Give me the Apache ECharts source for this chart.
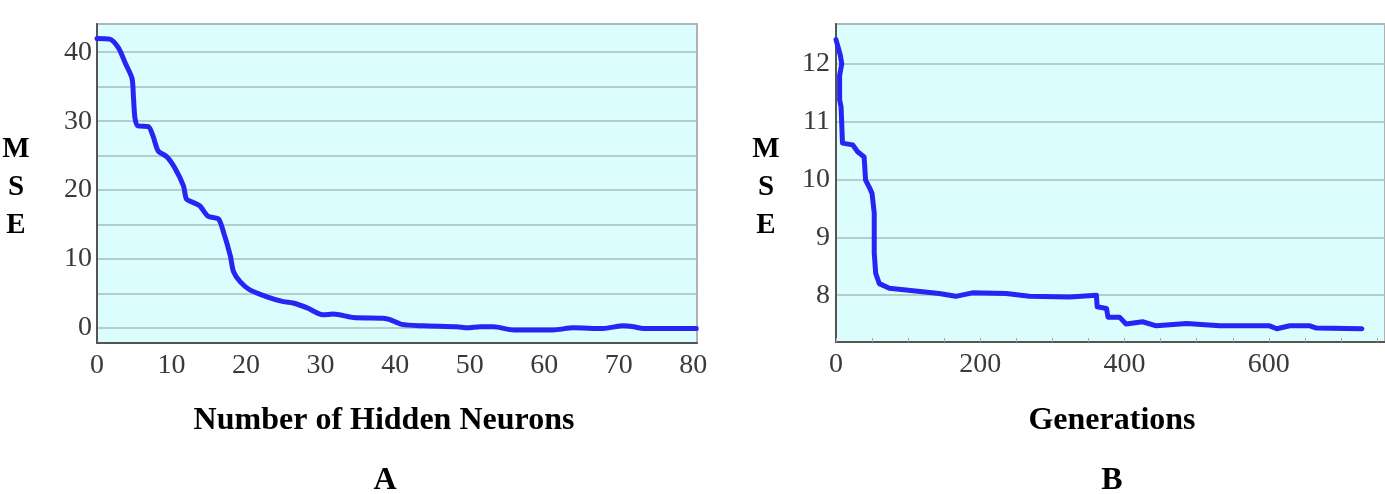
<!DOCTYPE html>
<html>
<head>
<meta charset="utf-8">
<script src="https://cdn.jsdelivr.net/npm/echarts@6/dist/echarts.min.js"></script>
<style>
html,body{margin:0;padding:0;background:#fff;}
#chart{width:1385px;height:494px;}
</style>
</head>
<body>
<div id="chart"></div>
<script>
// Panel A: MSE vs number of hidden neurons
var neuronsX = [0,1.7,2.9,3.8,4.7,4.9,5.1,5.5,6.9,7.5,8.2,9.4,10.5,11.6,12.0,12.9,13.8,14.9,16.3,17.0,17.9,18.3,19.2,20.5,22.8,25,26.3,28.2,30.3,31.7,34.4,38.4,39.3,40.9,43.8,48.3,49.7,51.4,53.2,55.9,61.2,63.9,67.9,70.6,72,73.3,80.4];
var neuronsMSE = [42.0,41.9,40.6,38.4,36.2,33.3,30.4,29.3,29.2,27.9,25.7,24.8,23.1,20.6,18.7,18.2,17.7,16.2,15.8,13.8,10.4,8.2,6.7,5.5,4.5,3.8,3.6,2.9,1.9,2.0,1.5,1.4,1.2,0.5,0.3,0.15,0,0.15,0.15,-0.3,-0.3,0,-0.1,0.3,0.15,-0.1,-0.1];
// Panel B: MSE vs generations
var genX = [0,6,8,5,5,7,9,23,30,39,41,46,50,53,53,55,60,74,97,120,143,166,189,236,268,324,361,362,375,377,393,402,425,444,486,532,601,611,629,657,666,729];
var genMSE = [12.42,12.15,12.0,11.8,11.38,11.26,10.63,10.6,10.48,10.39,9.99,9.87,9.76,9.42,8.73,8.38,8.2,8.12,8.09,8.06,8.03,7.98,8.04,8.03,7.98,7.97,8.0,7.8,7.77,7.62,7.62,7.5,7.54,7.47,7.51,7.47,7.47,7.42,7.47,7.47,7.43,7.42];

var yLabelA = [0,10,20,30,40];
var xLabelB = [0,200,400,600];
var titleA = 'Number of Hidden Neurons';
var titleB = 'Generations';
var panelA = 'A', panelB = 'B', yName = ['M','S','E'];

function pairs(xs, ys){ return xs.map(function(x,i){ return [x, ys[i]]; }); }

var serif = '"Liberation Serif", "Times New Roman", serif';
var lblStyle = {fontFamily: serif, fontSize: 28, color: '#3a3a3a'};
var gridCol = '#a9bcbc';
var bg = '#dcfdfd';
var blue = '#2626f4';

var chart = echarts.init(document.getElementById('chart'), null, {renderer:'canvas'});

function textEl(t, x, y, size){
  return {type:'text', left: null, x: x, y: y, style:{text:t, x:0, y:0, fill:'#000', font:'bold '+size+'px '+serif, textAlign:'center', textVerticalAlign:'middle'}};
}

var graphics = [
  textEl(titleA, 384, 421, 32),
  textEl(titleB, 1112, 421, 32),
  textEl(panelA, 385, 481, 32),
  textEl(panelB, 1112, 481, 32)
];
yName.forEach(function(ch, i){
  graphics.push(textEl(ch, 16, 150 + i*38, 29));
  graphics.push(textEl(ch, 766, 150 + i*38, 29));
});

chart.setOption({
  animation: false,
  grid: [
    {left: 97, top: 24, width: 600, height: 319, show: true, backgroundColor: bg, borderColor: '#b0b0b0', borderWidth: 2},
    {left: 836, top: 24, width: 560, height: 318, show: true, backgroundColor: bg, borderColor: '#b0b0b0', borderWidth: 2}
  ],
  xAxis: [
    {type:'value', gridIndex:0, min:0, max:80.5, interval:10,
     axisLine:{show:true, onZero:false, lineStyle:{color:'#555', width:2}},
     axisTick:{show:false}, splitLine:{show:false},
     axisLabel:Object.assign({margin:9, showMaxLabel:false, formatter:function(v){return v;}}, lblStyle)},
    {type:'value', gridIndex:1, min:0, max:761, interval:50,
     axisLine:{show:true, onZero:false, lineStyle:{color:'#555', width:2}},
     axisTick:{show:true, inside:true, length:4, lineStyle:{color:'#aaa', width:1}},
     splitLine:{show:false},
     axisLabel:Object.assign({margin:9, showMaxLabel:false, formatter:function(v){ return xLabelB.indexOf(v) >= 0 ? String(v) : ''; }}, lblStyle)}
  ],
  yAxis: [
    {type:'value', gridIndex:0, min:-2.2, max:44.1, splitNumber:9,
     axisLine:{show:true, onZero:false, lineStyle:{color:'#555', width:2}},
     axisTick:{show:false},
     splitLine:{show:true, lineStyle:{color:gridCol, width:1.5}},
     axisLabel:Object.assign({margin:5, showMinLabel:false, showMaxLabel:false, formatter:function(v){ return yLabelA.indexOf(v) >= 0 ? String(v) : ''; }}, lblStyle)},
    {type:'value', gridIndex:1, min:7.19, max:12.69, splitNumber:5,
     axisLine:{show:true, onZero:false, lineStyle:{color:'#555', width:2}},
     axisTick:{show:false},
     splitLine:{show:true, lineStyle:{color:gridCol, width:1.5}},
     axisLabel:Object.assign({margin:6, showMinLabel:false, showMaxLabel:false, formatter:function(v){ return (Math.abs(v-Math.round(v))<1e-6) ? String(Math.round(v)) : ''; }}, lblStyle)}
  ],
  series: [
    {type:'line', xAxisIndex:0, yAxisIndex:0, data: pairs(neuronsX, neuronsMSE), showSymbol:false, smooth:0.25,
     lineStyle:{color:blue, width:5, cap:'round', join:'round'}},
    {type:'line', xAxisIndex:1, yAxisIndex:1, data: pairs(genX, genMSE), showSymbol:false,
     lineStyle:{color:blue, width:5, cap:'round', join:'round'}}
  ],
  graphic: graphics
});
</script>
</body>
</html>
